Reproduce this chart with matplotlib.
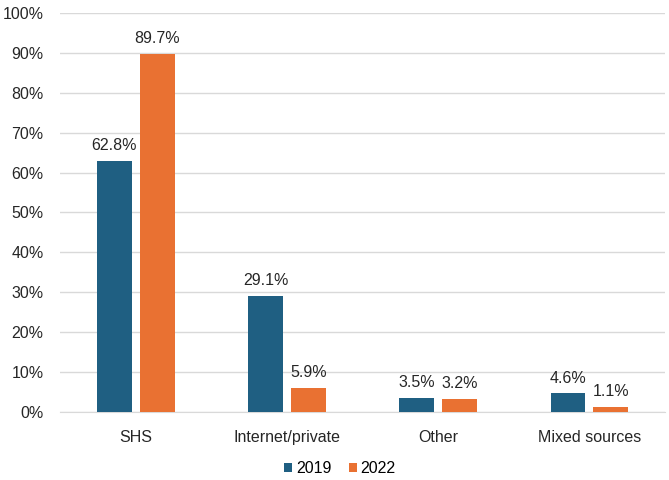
import numpy as np
import matplotlib
matplotlib.use('Agg')
import matplotlib.pyplot as plt

categories = ['SHS', 'Internet/private', 'Other', 'Mixed sources']
values_2019 = [62.8, 29.1, 3.5, 4.6]
values_2022 = [89.7, 5.9, 3.2, 1.1]
series_labels = ['2019', '2022']
colors = ['#1F5F82', '#E97132']

plt.rcParams['font.family'] = ['Liberation Sans', 'DejaVu Sans']

fig = plt.figure(figsize=(6.69, 4.8), dpi=100)
ax = fig.add_axes([0.09, 0.142, 0.904, 0.831])

x = np.arange(len(categories))
w = 0.23
off = 0.142
bars = []
for vals, lab, col, sgn in zip([values_2019, values_2022], series_labels, colors, [-1, 1]):
    b = ax.bar(x + sgn * off, vals, w, color=col, label=lab, zorder=3)
    bars.append(b)
    for xi, v in zip(x, vals):
        ax.text(xi + sgn * off, v + 2, f'{v:.1f}%', ha='center', va='bottom',
                fontsize=11.5, color='#262626')

ax.set_xlim(-0.5, 3.5)
ax.set_ylim(0, 100)
ax.set_yticks(range(0, 101, 10))
ax.set_yticklabels([f'{t}%' for t in range(0, 101, 10)])
ax.set_xticks(x)
ax.set_xticklabels(categories)
ax.tick_params(axis='both', length=0, labelsize=11.5, colors='#262626')
ax.tick_params(axis='x', pad=13)
ax.tick_params(axis='y', pad=12)
ax.grid(axis='y', color='#D9D9D9', lw=1, zorder=0)
for s in ['top', 'right', 'left']:
    ax.spines[s].set_visible(False)
ax.spines['bottom'].set_color('#D9D9D9')

fig.legend(handles=bars, labels=series_labels, loc='center', bbox_to_anchor=(0.508, 0.023),
           ncol=2, frameon=False, fontsize=11.5, handlelength=0.5, handleheight=0.5,
           handletextpad=0.25, columnspacing=1.1)

fig.savefig('out.png', dpi=100)
